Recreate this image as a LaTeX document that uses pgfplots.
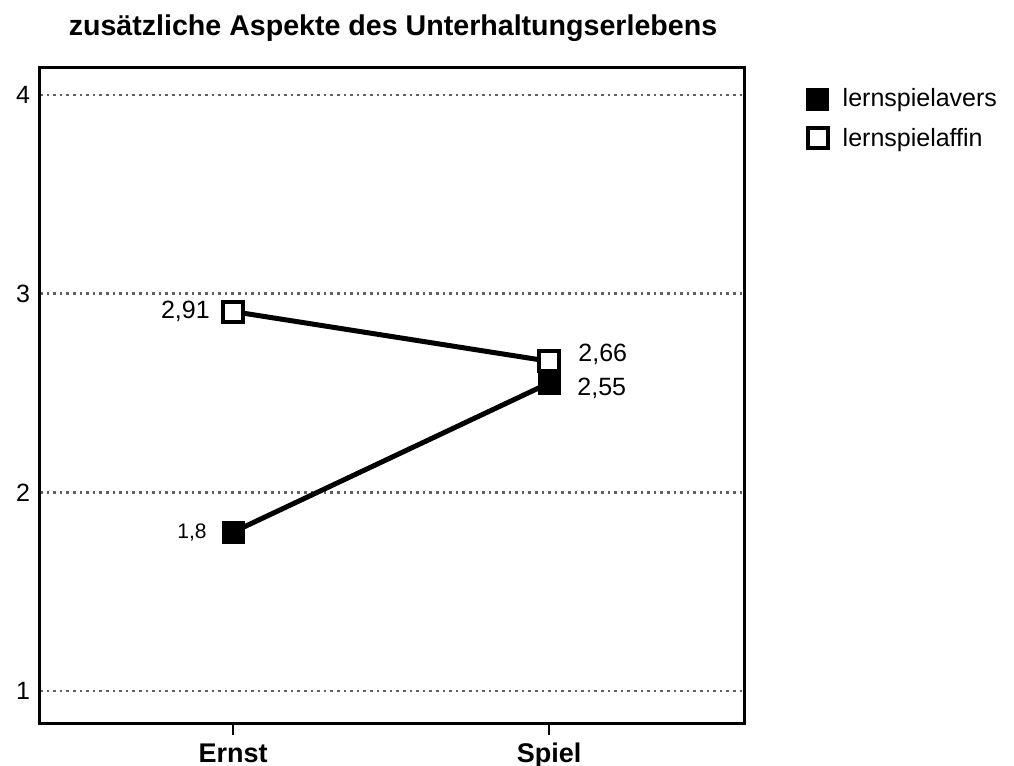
\documentclass[border=0pt]{standalone}
\usepackage{pgfplots}
\pgfplotsset{compat=1.18}
\usepackage{fontspec}
\setmainfont{Liberation Sans}
\begin{document}
\begin{tikzpicture}
\path[use as bounding box] (-20pt,-21pt) rectangle (487pt,362pt);
\begin{axis}[
  at={(0pt,0pt)}, anchor=south west,
  scale only axis, width=352.5pt, height=328pt,
  xmin=-0.611, xmax=1.620, ymin=0.834, ymax=4.136,
  axis line style={line width=1.5pt},
  xtick={0,1}, xticklabels={\textbf{Ernst},\textbf{Spiel}},
  ytick={1,2,3,4}, yticklabels={1,2,3,4},
  xtick pos=lower,
  tick align=outside, major tick length=5.5pt,
  xtick style={line width=1.2pt, black},
  ytick style={draw=none},
  x tick label style={font=\fontsize{13.5}{15}\selectfont, anchor=base, yshift=-14pt},
  y tick label style={font=\fontsize{12.5}{14}\selectfont, xshift=4pt},
  ymajorgrids,
  grid style={line width=1.2pt, gray!75!black, dash pattern=on 1.3pt off 2pt},
  legend style={draw=none, fill=none, at={(axis description cs:1.087,0.975)}, anchor=north west,
    inner sep=0pt, row sep=5pt, font=\fontsize{12.5}{15}\selectfont},
  legend cell align=left,
]
\addlegendimage{only marks, mark=square*, mark size=5.5pt, black}
\addlegendentry{\hspace{5pt}lernspielavers}
\addlegendimage{only marks, mark=square*, mark size=5pt, mark options={fill=white, draw=black, line width=2pt}}
\addlegendentry{\hspace{5pt}lernspielaffin}
\addplot[forget plot, line width=2.5pt, black, mark=square*, mark size=5pt, mark options={fill=white, draw=black, line width=2pt}]
  coordinates {(0,2.91) (1,2.66)};
\addplot[forget plot, line width=2.5pt, black, mark=square*, mark size=5.5pt, mark options={fill=black, draw=black, line width=0pt}]
  coordinates {(0,1.8) (1,2.55)};
\node[anchor=east, inner sep=0pt, xshift=-11.5pt, font=\fontsize{12.5}{14}\selectfont] at (axis cs:0,2.91) {2,91};
\node[anchor=east, inner sep=0pt, xshift=-13pt, font=\fontsize{10.5}{13}\selectfont] at (axis cs:0,1.8) {1,8};
\node[anchor=west, inner sep=0pt, xshift=14.5pt, yshift=3.5pt, font=\fontsize{12.5}{14}\selectfont] at (axis cs:1,2.66) {2,66};
\node[anchor=west, inner sep=0pt, xshift=14pt, yshift=-2.5pt, font=\fontsize{12.5}{14}\selectfont] at (axis cs:1,2.55) {2,55};
\end{axis}
\node[font=\bfseries\fontsize{14.3}{16}\selectfont] at (176.5pt,348pt) {zusätzliche Aspekte des Unterhaltungserlebens};
\end{tikzpicture}
\end{document}
